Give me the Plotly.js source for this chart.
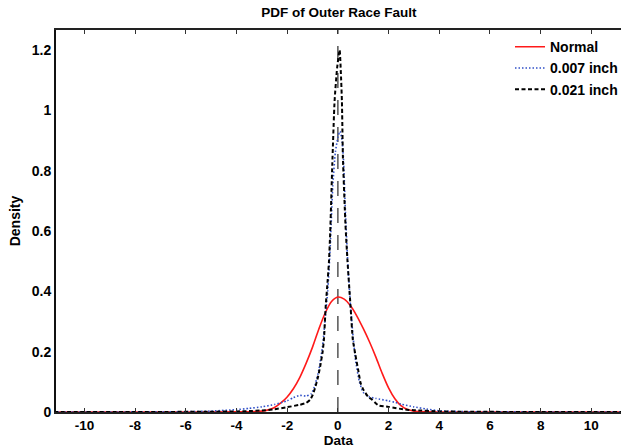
<!DOCTYPE html>
<html>
<head>
<meta charset="utf-8">
<script src="https://cdn.plot.ly/plotly-3.0.1.min.js"></script>
<style>html,body{margin:0;padding:0;background:#fff;}#chart{width:623px;height:448px;}</style>
</head>
<body>
<div id="chart"></div>
<script>
// Normal
const xNormal = [-11.2,-6,-4,-3.5,-3,-2.75,-2.5,-2.25,-2,-1.75,-1.5,-1.25,-1,-0.75,-0.5,-0.25,0,0.25,0.5,0.75,1,1.25,1.5,1.75,2,2.25,2.5,2.75,3,3.5,4,6,11.2];
const yNormal = [0,0,0.0003,0.001,0.003,0.007,0.015,0.03,0.05,0.078,0.115,0.162,0.215,0.275,0.328,0.366,0.381,0.374,0.352,0.318,0.277,0.232,0.182,0.128,0.08,0.044,0.02,0.008,0.003,0.0005,0,0,0];
// 0.007 inch
const x007 = [-11.2,-8,-6,-5,-4,-3.5,-3,-2.5,-2,-1.75,-1.5,-1.25,-1.05,-0.9,-0.75,-0.6,-0.48,-0.4,-0.3,-0.2,-0.1,0,0.08,0.15,0.22,0.3,0.4,0.5,0.6,0.7,0.85,1,1.25,1.5,2,2.25,2.5,3,3.5,4,5,6,8,11.2];
const y007 = [0,0.0003,0.001,0.003,0.008,0.012,0.017,0.025,0.037,0.048,0.055,0.053,0.06,0.09,0.14,0.22,0.33,0.40,0.55,0.75,0.86,0.91,0.93,0.91,0.84,0.66,0.48,0.35,0.25,0.17,0.10,0.065,0.05,0.045,0.037,0.032,0.026,0.017,0.01,0.004,0.001,0.0005,0.0002,0];
// 0.021 inch
const x021 = [-11.2,-8,-6,-5,-4,-3.5,-3,-2.5,-2,-1.5,-1.25,-1.1,-1,-0.9,-0.8,-0.7,-0.6,-0.55,-0.48,-0.4,-0.35,-0.3,-0.22,-0.13,-0.03,0.07,0.12,0.16,0.2,0.3,0.38,0.5,0.59,0.69,0.8,0.9,1,1.2,1.35,1.6,2,2.66,3,4,5,6,8,11.2];
const y021 = [0,0.0002,0.0005,0.001,0.002,0.003,0.005,0.009,0.016,0.024,0.03,0.04,0.055,0.08,0.11,0.15,0.2,0.24,0.35,0.44,0.5,0.6,0.82,1.03,1.14,1.2,1.12,1.03,0.84,0.62,0.5,0.35,0.24,0.19,0.14,0.095,0.075,0.05,0.041,0.022,0.017,0.008,0.006,0.002,0.001,0.0005,0.0002,0];

const names = ['Normal','0.007 inch','0.021 inch'];
const xTicks = [-10,-8,-6,-4,-2,0,2,4,6,8,10];
const yTicks = [0,0.2,0.4,0.6,0.8,1,1.2];
const yTickText = ['0','0.2','0.4','0.6','0.8','1','1.2'];

const fam = 'Liberation Sans, Arial, sans-serif';
const font = {family:fam, size:14, color:'#000'};

const traces = [
  {x:xNormal, y:yNormal, name:names[0], mode:'lines', line:{color:'#ff1a1a', width:1.6, shape:'spline', smoothing:0.8}},
  {x:x007, y:y007, name:names[1], mode:'lines', line:{color:'#3050c8', width:1.6, dash:'1.5px,2px', shape:'spline', smoothing:0.5}},
  {x:x021, y:y021, name:names[2], mode:'lines', line:{color:'#000000', width:2, dash:'4px,2.5px', shape:'spline', smoothing:0.5}}
];

const layout = {
  width:623, height:448,
  margin:{l:56, r:0, t:30, b:36},
  paper_bgcolor:'#fff', plot_bgcolor:'#fff',
  font:font,
  title:{text:'<b>PDF of Outer Race Fault</b>', x:0.544, xanchor:'center', y:0.972, yanchor:'middle', font:{family:fam, size:13.5, color:'#000'}},
  showlegend:true,
  legend:{x:0.804, xanchor:'left', y:0.997, yanchor:'top', bgcolor:'rgba(0,0,0,0)', borderwidth:0, font:{family:fam, size:14, color:'#000', weight:'bold'}},
  xaxis:{range:[-11.12,11.17], tickvals:xTicks, ticktext:xTicks.map(v=>'<b>'+v+'</b>'), ticks:'inside', ticklen:4, tickcolor:'#333', showline:true, linecolor:'#222', linewidth:2, mirror:'ticks', showgrid:false, zeroline:false, tickfont:{family:fam,size:13.5,color:'#000'}, title:{text:'<b>Data</b>', standoff:2, font:{family:fam,size:13.5,color:'#000'}}},
  yaxis:{range:[0,1.266], tickvals:yTicks, ticktext:yTickText.map(v=>'<b>'+v+'</b>'), ticks:'', showline:true, linecolor:'#111', linewidth:2, mirror:false, showgrid:false, zeroline:false, tickfont:{family:fam,size:14,color:'#000'}, title:{text:'<b>Density</b>', standoff:8, font:{family:fam,size:14,color:'#000'}}},
  shapes:[{type:'line', xref:'x', yref:'y domain', x0:0, x1:0, y0:0, y1:1, layer:'below', line:{color:'#555', width:1.5, dash:'15px,12px'}}]
};

Plotly.newPlot('chart', traces, layout, {displayModeBar:false, staticPlot:true});
</script>
</body>
</html>
